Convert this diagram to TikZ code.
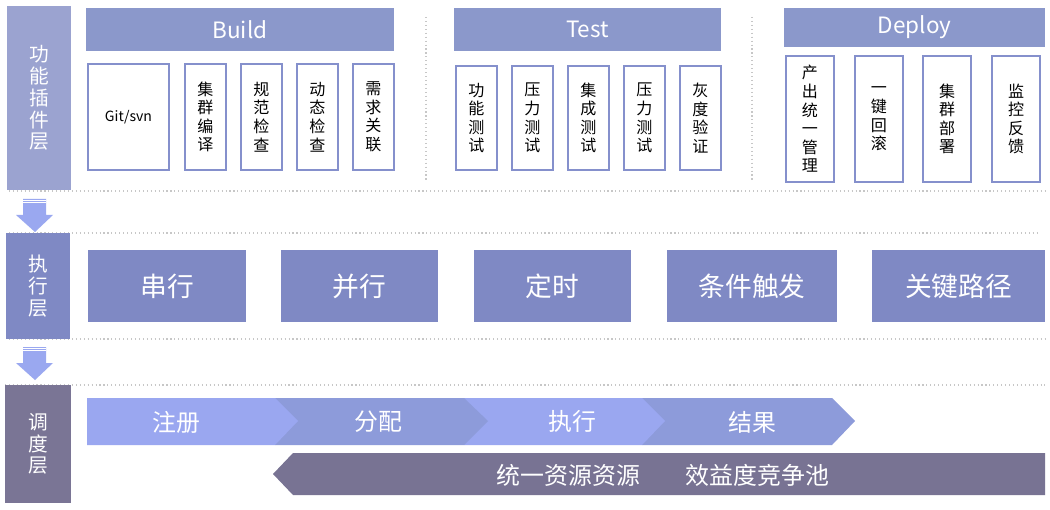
\documentclass[tikz,border=0pt]{standalone}
\usepackage{fontspec}
\newfontfamily\cjk{Noto Sans CJK SC}
\definecolor{layA}{HTML}{9BA3D0}
\definecolor{layB}{HTML}{7F89C4}
\definecolor{layC}{HTML}{7A7595}
\definecolor{headc}{HTML}{8B98CB}
\definecolor{boxc}{HTML}{8590CC}
\definecolor{arrowc}{HTML}{9AA8F0}
\definecolor{chevA}{HTML}{9AA7F0}
\definecolor{chevB}{HTML}{8D9BDA}
\definecolor{poolc}{HTML}{787393}

\begin{document}
\begin{tikzpicture}[x=0.025cm, y=-0.025cm, font=\cjk,
    corners/.style n args={4}{at={({(#1+#3)/2},{(#2+#4)/2})},
      minimum width={(#3-#1)*0.025cm}, minimum height={(#4-#2)*0.025cm}},
    layer/.style={fill=#1, text=white, inner sep=0pt, align=center,
      font=\cjk\fontsize{14}{15.5}\selectfont},
    head/.style={fill=headc, text=white, inner sep=0pt,
      font=\cjk\fontsize{16}{18}\selectfont},
    plug/.style={draw=boxc, line width=1.2pt, fill=white, inner sep=0pt,
      align=center, font=\cjk\fontsize{11.4}{13.2}\selectfont},
    exec/.style={fill=layB, text=white, inner sep=0pt,
      font=\cjk\fontsize{19}{22}\selectfont},
    stage/.style={text=white, inner sep=0pt, font=\cjk\fontsize{17}{20}\selectfont},
    sep/.style={black!22, dotted, line width=0.8pt}]
  \fill[white] (0,0) rectangle (1050,510);
  \useasboundingbox (0,0) rectangle (1050,510);

  % separators
  \draw[sep] (9,191) -- (1045,191);
  \draw[sep] (9,233) -- (1040,233);
  \draw[sep] (9,339) -- (1045,339);
  \draw[sep] (5,385) -- (1045,385);
  \draw[sep] (426,17) -- (426,180);
  \draw[sep] (752,17) -- (752,180);

  % layers
  \node[layer=layA, corners={7}{6}{71}{190}] (funL) {功\\能\\插\\件\\层};
  \node[layer=layB, corners={6}{233}{70}{339}] (execL) {执\\行\\层};
  \node[layer=layC, corners={5}{385}{71}{503}] (schedL) {调\\度\\层};

  % down arrows
  \foreach \y in {199,347} {
    \fill[arrowc] (23,\y) -- (46,\y) -- (46,\y+16) -- (53,\y+16) -- (35,\y+33)
      -- (16,\y+16) -- (23,\y+16) -- cycle;
    \draw[white, line width=0.4pt] (23,\y+1.5) -- (46,\y+1.5);
    \draw[white, line width=0.4pt] (23,\y+3.5) -- (46,\y+3.5);
  }

  % plugin layer
  \node[head, corners={86}{8}{394}{51}] (build) {Build};
  \node[head, corners={454}{8}{721}{51}] (test) {Test};
  \node[head, corners={784}{8}{1045}{47}] (deploy) {Deploy};

  \node[plug, corners={88}{64}{169}{170}, font=\cjk\fontsize{10}{12}\selectfont] (git) {Git/svn};
  \foreach \x/\t [count=\i] in {185/{集\\群\\编\\译}, 241/{规\\范\\检\\查},
      297/{动\\态\\检\\查}, 353/{需\\求\\关\\联}}
    \node[plug, corners={\x}{64}{\x+41}{170}] (build\i) {\t};
  \foreach \x/\t [count=\i] in {456/{功\\能\\测\\试}, 512/{压\\力\\测\\试},
      568/{集\\成\\测\\试}, 624/{压\\力\\测\\试}, 680/{灰\\度\\验\\证}}
    \node[plug, corners={\x}{66}{\x+41}{170}] (test\i) {\t};
  \foreach \x/\t [count=\i] in {786/{产\\出\\统\\一\\管\\理}, 855/{一\\键\\回\\滚},
      923/{集\\群\\部\\署}, 992/{监\\控\\反\\馈}}
    \node[plug, corners={\x}{56}{\x+48}{182}] (dep\i) {\t};

  % execution layer
  \node[exec, corners={88}{250}{246}{322}] (serial) {串行};
  \node[exec, corners={281}{250}{438}{322}] (parallel) {并行};
  \node[exec, corners={474}{250}{631}{322}] (timer) {定时};
  \node[exec, corners={667}{250}{837}{322}] (trigger) {条件触发};
  \node[exec, corners={872}{250}{1045}{322}] (critical) {关键路径};

  % scheduling layer
  \fill[chevB] (642,398) -- (832,398) -- (855,421) -- (832,445) -- (642,445) -- cycle;
  \fill[chevA] (464,398) -- (642,398) -- (665,421) -- (642,445) -- (464,445) -- cycle;
  \fill[chevB] (275,398) -- (464,398) -- (488,421) -- (464,445) -- (275,445) -- cycle;
  \fill[chevA] (87,398) -- (275,398) -- (298,421) -- (275,445) -- (87,445) -- cycle;
  \node[stage] (reg) at (176,422) {注册};
  \node[stage] (alloc) at (378,422) {分配};
  \node[stage] (run) at (572,421) {执行};
  \node[stage] (result) at (752,422) {结果};

  \fill[poolc] (1045,453) -- (293,453) -- (273,474) -- (293,495) -- (1045,495) -- cycle;
  \node[stage] (pool) at (663,475) {统一资源资源\hspace{1.9em}效益度竞争池};
\end{tikzpicture}
\end{document}
